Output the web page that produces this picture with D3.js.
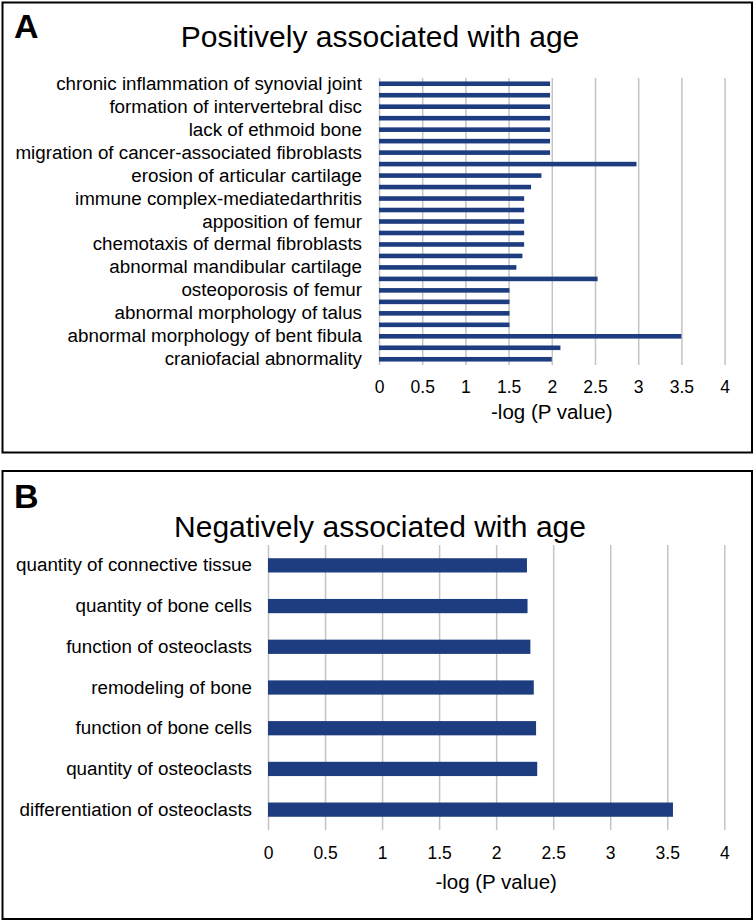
<!DOCTYPE html>
<html><head><meta charset="utf-8">
<script src="https://cdn.jsdelivr.net/npm/d3@7"></script>
<style>body{margin:0;background:#fff}svg{display:block}text{font-family:"Liberation Sans",Arial,sans-serif;fill:#000}</style>
</head><body>
<script>
// Panel A: 25 categories, only every other one labelled in the original
const categoriesA = [
  "chronic inflammation of synovial joint", "",
  "formation of intervertebral disc", "",
  "lack of ethmoid bone", "",
  "migration of cancer-associated fibroblasts", "",
  "erosion of articular cartilage", "",
  "immune complex-mediatedarthritis", "",
  "apposition of femur", "",
  "chemotaxis of dermal fibroblasts", "",
  "abnormal mandibular cartilage", "",
  "osteoporosis of femur", "",
  "abnormal morphology of talus", "",
  "abnormal morphology of bent fibula", "",
  "craniofacial abnormality"
];
const valuesA = [1.98,1.98,1.98,1.98,1.98,1.98,1.98,2.98,1.88,1.76,1.68,1.68,1.68,1.68,1.68,1.66,1.59,2.53,1.51,1.51,1.51,1.51,3.5,2.1,2.0];

const categoriesB = [
  "quantity of connective tissue",
  "quantity of bone cells",
  "function of osteoclasts",
  "remodeling of bone",
  "function of bone cells",
  "quantity of osteoclasts",
  "differentiation of osteoclasts"
];
const valuesB = [2.27,2.275,2.30,2.33,2.35,2.36,3.55];

const xTicks = [0,0.5,1,1.5,2,2.5,3,3.5,4];
const titleA = "Positively associated with age";
const titleB = "Negatively associated with age";
const axisTitle = "-log (P value)";

const W = 756, H = 923;
const barColor = "#1d3d80";
const gridColor = "#c4c4c4";

const svg = d3.select("body").append("svg").attr("width", W).attr("height", H);

function panel(cfg) {
  const g = svg.append("g");
  g.append("rect").attr("x", 2.5).attr("y", cfg.frameTop).attr("width", 749.5).attr("height", cfg.frameBottom - cfg.frameTop)
    .attr("fill", "none").attr("stroke", "#000").attr("stroke-width", 2);
  g.append("text").attr("x", 14).attr("y", cfg.letterY).attr("font-size", 34).attr("font-weight", "bold").text(cfg.letter);
  g.append("text").attr("x", 380).attr("y", cfg.titleY).attr("text-anchor", "middle").attr("font-size", 30).text(cfg.title);

  const x = d3.scaleLinear().domain([0, 4]).range([cfg.x0, cfg.x1]);
  const y = d3.scaleBand().domain(d3.range(cfg.cats.length)).range([cfg.top, cfg.bottom]).paddingInner(cfg.pad).paddingOuter(cfg.pad / 2);

  // gridlines
  const grid = d3.axisBottom(x).tickValues(xTicks).tickSize(-(cfg.bottom - cfg.top)).tickFormat("");
  g.append("g").attr("transform", `translate(0,${cfg.bottom})`).call(grid)
    .call(s => s.select(".domain").remove())
    .call(s => s.selectAll("line").attr("stroke", gridColor).attr("stroke-width", 1.5));

  // bars
  g.append("g").selectAll("rect").data(cfg.vals).join("rect")
    .attr("x", x(0)).attr("y", (d, i) => y(i))
    .attr("width", d => x(d) - x(0)).attr("height", y.bandwidth())
    .attr("fill", barColor);

  // x tick labels
  const xa = d3.axisBottom(x).tickValues(xTicks).tickSize(0).tickPadding(0).tickFormat(d => d);
  g.append("g").attr("transform", `translate(0,${cfg.tickY})`).call(xa)
    .call(s => s.select(".domain").remove())
    .call(s => s.selectAll("text").attr("font-size", 17.5).attr("dy", "0.35em").attr("y", 0)
      .style("font-family", '"Liberation Sans",Arial,sans-serif').attr("fill", "#000"));

  // y labels
  const ya = d3.axisLeft(y).tickSize(0).tickPadding(cfg.labelPad).tickFormat(i => cfg.cats[i]);
  g.append("g").attr("transform", `translate(${cfg.x0},0)`).call(ya)
    .call(s => s.select(".domain").remove())
    .call(s => s.selectAll("text").attr("font-size", cfg.labelSize).attr("fill", "#000")
      .style("font-family", '"Liberation Sans",Arial,sans-serif'));

  g.append("text").attr("x", (cfg.x0 + cfg.x1) / 2).attr("y", cfg.axisTitleY).attr("text-anchor", "middle")
    .attr("dy", "0.35em").attr("font-size", 20.5).text(axisTitle);
}

panel({letter: "A", title: titleA, frameTop: 2.5, frameBottom: 452.5, titleY: 47, letterY: 38,
  x0: 379, x1: 724.6, top: 78, bottom: 365, pad: 0.6, cats: categoriesA, vals: valuesA,
  tickY: 387, axisTitleY: 412, labelPad: 17, labelSize: 18.8});

panel({letter: "B", title: titleB, frameTop: 471, frameBottom: 919, titleY: 537, letterY: 508,
  x0: 268, x1: 724.3, top: 545, bottom: 830, pad: 0.65, cats: categoriesB, vals: valuesB,
  tickY: 853, axisTitleY: 882, labelPad: 16, labelSize: 18.8});
</script>
</body></html>
